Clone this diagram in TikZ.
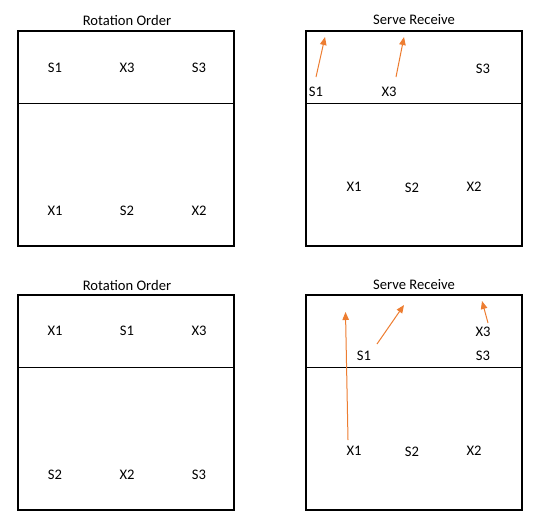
\documentclass[tikz,border=0pt]{standalone}
\usepackage{fontspec}
\setmainfont{Carlito}
\usetikzlibrary{arrows.meta}
\definecolor{arr}{HTML}{ED7D31}
\begin{document}
\begin{tikzpicture}[x=1pt,y=-1pt,
  court/.style={draw=black,line width=2pt},
  divider/.style={draw=black,line width=1pt},
  lbl/.style={inner sep=0pt,font=\fontsize{14.6}{16}\selectfont},
  ttl/.style={inner sep=0pt,font=\fontsize{14.6}{16}\selectfont},
  mv/.style={draw=arr,line width=1pt,-{Triangle[length=8pt,width=6.5pt]}}]
\useasboundingbox (0,0) rectangle (535,525);
% courts
\draw[court] (18,31) rectangle (234,246);
\draw[divider] (18,103) -- (234,103);
\draw[court] (306,31) rectangle (522,246);
\draw[divider] (306,103) -- (522,103);
\draw[court] (18,295) rectangle (234,510);
\draw[divider] (18,367) -- (234,367);
\draw[court] (306,295) rectangle (522,510);
\draw[divider] (306,367) -- (522,367);
% titles
\node[ttl] (t1) at (127,20) {Rotation Order};
\node[ttl] (t2) at (414,20) {Serve Receive};
\node[ttl] (t3) at (127,285) {Rotation Order};
\node[ttl] (t4) at (414,285) {Serve Receive};
% top-left
\node[lbl] (a1) at (55,68) {S1};
\node[lbl] (a2) at (127,68) {X3};
\node[lbl] (a3) at (199,68) {S3};
\node[lbl] (a4) at (55,211) {X1};
\node[lbl] (a5) at (127,211) {S2};
\node[lbl] (a6) at (199,211) {X2};
% top-right
\node[lbl] (b1) at (316,92) {S1};
\node[lbl] (b2) at (389,92) {X3};
\node[lbl] (b3) at (483,69) {S3};
\node[lbl] (b4) at (354,187) {X1};
\node[lbl] (b5) at (412,188) {S2};
\node[lbl] (b6) at (474,187) {X2};
\coordinate (b1s) at (316,77);
\coordinate (b1e) at (325,37);
\coordinate (b2s) at (396,77);
\coordinate (b2e) at (404,37);
\draw[mv] (b1s) -- (b1e);
\draw[mv] (b2s) -- (b2e);
% bottom-left
\node[lbl] (c1) at (55,331) {X1};
\node[lbl] (c2) at (127,331) {S1};
\node[lbl] (c3) at (199,331) {X3};
\node[lbl] (c4) at (55,475) {S2};
\node[lbl] (c5) at (127,475) {X2};
\node[lbl] (c6) at (199,475) {S3};
% bottom-right
\node[lbl] (d1) at (364,356) {S1};
\node[lbl] (d2) at (483,332) {X3};
\node[lbl] (d3) at (483,356) {S3};
\node[lbl] (d4) at (354,451) {X1};
\node[lbl] (d5) at (412,452) {S2};
\node[lbl] (d6) at (474,451) {X2};
\coordinate (d4s) at (348,440);
\coordinate (d4e) at (345.5,312);
\coordinate (d1s) at (377,344);
\coordinate (d1e) at (404,305);
\coordinate (d2s) at (488,323);
\coordinate (d2e) at (482,301);
\draw[mv] (d4s) -- (d4e);
\draw[mv] (d1s) -- (d1e);
\draw[mv] (d2s) -- (d2e);
\end{tikzpicture}
\end{document}
